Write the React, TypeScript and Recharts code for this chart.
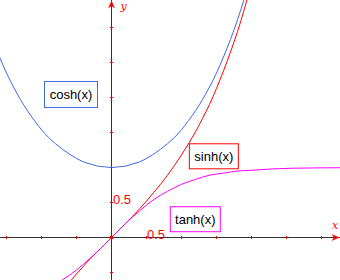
import {
  ComposedChart,
  Line,
  XAxis,
  YAxis,
  ReferenceLine,
  ReferenceDot,
} from 'recharts'

// sample points
const xs = [
  -1.6, -1.5, -1.4, -1.3, -1.2, -1.1, -1.0, -0.9, -0.8, -0.7, -0.6, -0.5, -0.4,
  -0.3, -0.2, -0.1, 0, 0.1, 0.2, 0.3, 0.4, 0.5, 0.6, 0.7, 0.8, 0.9, 1.0, 1.1,
  1.2, 1.3, 1.4, 1.5, 1.6, 1.7, 1.8, 1.9, 2.0,
]
const coshVals = [
  2.58, 2.35, 2.15, 1.97, 1.81, 1.67, 1.54, 1.43, 1.34, 1.26, 1.19, 1.13, 1.08,
  1.05, 1.02, 1.01, 1.0, 1.01, 1.02, 1.05, 1.08, 1.13, 1.19, 1.26, 1.34, 1.43,
  1.54, 1.67, 1.81, 1.97, 2.15, 2.35, 2.58, 2.83, 3.11, 3.42, 3.76,
]
const sinhVals = [
  -2.38, -2.13, -1.9, -1.7, -1.51, -1.34, -1.18, -1.03, -0.89, -0.76, -0.64,
  -0.52, -0.41, -0.3, -0.2, -0.1, 0, 0.1, 0.2, 0.3, 0.41, 0.52, 0.64, 0.76,
  0.89, 1.03, 1.18, 1.34, 1.51, 1.7, 1.9, 2.13, 2.38, 2.65, 2.94, 3.27, 3.63,
]
const tanhXs = [
  -0.8, -0.6, -0.4, -0.2, 0, 0.2, 0.4, 0.6, 0.8, 1.0, 1.2, 1.4, 1.6, 1.8, 2.0,
  2.3, 2.6, 3.0, 3.3,
]
const tanhVals = [
  -0.66, -0.54, -0.38, -0.2, 0, 0.2, 0.38, 0.54, 0.66, 0.76, 0.83, 0.89, 0.92,
  0.95, 0.96, 0.98, 0.99, 0.995, 0.997,
]
const xTicks = [-1.5, -1, -0.5, 0.5, 1, 1.5, 2, 2.5, 3]
const yTicks = [-0.5, 0.5, 1, 1.5, 2, 2.5, 3]

const hypData = xs.map((x, i) => ({ x, cosh: coshVals[i], sinh: sinhVals[i] }))
const tanhData = tanhXs.map((x, i) => ({ x, tanh: tanhVals[i] }))

const FONT = '"Liberation Sans", Arial, sans-serif'
const AXIS = '#333333'
const RED = '#ff0000'

const box = (color: string, text: string, w: number, h: number) => (p: any) => (
  <g>
    <rect
      x={p.cx - w / 2}
      y={p.cy - h / 2}
      width={w}
      height={h}
      fill="#fff"
      stroke={color}
      strokeWidth={1}
    />
    <text
      x={p.cx}
      y={p.cy + 5}
      textAnchor="middle"
      fontFamily={FONT}
      fontSize={13}
      fill="#000"
    >
      {text}
    </text>
  </g>
)

const label = (text: string, dx: number, dy: number) => (p: any) => (
  <text x={p.cx + dx} y={p.cy + dy} fontFamily={FONT} fontSize={13} fill={RED}>
    {text}
  </text>
)

const App = () => {
  return (
    <div style={{ position: 'absolute', left: 0, top: 0, background: '#fff' }}>
      <ComposedChart
        width={340}
        height={280}
        margin={{ top: 0, right: 0, bottom: 0, left: 0 }}
      >
        <XAxis
          dataKey="x"
          type="number"
          hide
          domain={[-111.5 / 70, 228.5 / 70]}
          allowDataOverflow
        />
        <YAxis
          type="number"
          hide
          domain={[-42.5 / 70, 237.5 / 70]}
          allowDataOverflow
        />
        <ReferenceLine x={0} stroke={AXIS} strokeWidth={1} />
        <ReferenceLine y={0} stroke={AXIS} strokeWidth={1} />
        {xTicks.map((t) => (
          <ReferenceLine
            key={`xt-${t}`}
            segment={[
              { x: t, y: -0.022 },
              { x: t, y: 0.022 },
            ]}
            stroke={RED}
          />
        ))}
        {yTicks.map((t) => (
          <ReferenceLine
            key={`yt-${t}`}
            segment={[
              { x: -0.022, y: t },
              { x: 0.022, y: t },
            ]}
            stroke={RED}
          />
        ))}
        <Line
          data={hypData}
          dataKey="cosh"
          type="monotone"
          stroke="#4169e1"
          strokeWidth={1}
          dot={false}
          isAnimationActive={false}
        />
        <Line
          data={hypData}
          dataKey="sinh"
          type="monotone"
          stroke={RED}
          strokeWidth={1}
          dot={false}
          isAnimationActive={false}
        />
        <Line
          data={tanhData}
          dataKey="tanh"
          type="monotone"
          stroke="#ff00ff"
          strokeWidth={1}
          dot={false}
          isAnimationActive={false}
        />
        <ReferenceDot x={0} y={0} r={2} fill={RED} stroke="none" />
        <ReferenceDot
          x={0}
          y={237 / 70}
          ifOverflow="visible"
          shape={(p: any) => (
            <path
              d={`M${p.cx},${p.cy} L${p.cx - 3.5},${p.cy + 8} L${p.cx},${p.cy + 5.5} L${p.cx + 3.5},${p.cy + 8} Z`}
              fill={RED}
            />
          )}
        />
        <ReferenceDot
          x={228 / 70}
          y={0}
          ifOverflow="visible"
          shape={(p: any) => (
            <path
              d={`M${p.cx},${p.cy} L${p.cx - 8},${p.cy - 3.5} L${p.cx - 5.5},${p.cy} L${p.cx - 8},${p.cy + 3.5} Z`}
              fill={RED}
            />
          )}
        />
        <ReferenceDot
          x={0}
          y={3.2}
          ifOverflow="visible"
          shape={(p: any) => (
            <text
              x={p.cx + 9}
              y={p.cy - 4}
              fontFamily='"DejaVu Serif", serif'
              fontStyle="italic"
              fontSize={11}
              fill={RED}
            >
              y
            </text>
          )}
        />
        <ReferenceDot
          x={3.15}
          y={0}
          ifOverflow="visible"
          shape={(p: any) => (
            <text
              x={p.cx}
              y={p.cy - 9}
              fontFamily='"DejaVu Serif", serif'
              fontStyle="italic"
              fontSize={11}
              fill={RED}
            >
              x
            </text>
          )}
        />
        <ReferenceDot x={0} y={0.5} shape={label('0.5', 1.5, 1.5)} />
        <ReferenceDot x={0.5} y={0} shape={label('0.5', 0.5, 1)} />
        <ReferenceDot x={-0.579} y={2.043} shape={box('#4169e1', 'cosh(x)', 53, 26)} />
        <ReferenceDot x={1.462} y={1.16} shape={box(RED, 'sinh(x)', 49, 25)} />
        <ReferenceDot x={1.197} y={0.261} shape={box('#ff00ff', 'tanh(x)', 50, 25)} />
      </ComposedChart>
    </div>
  )
}

export default App
